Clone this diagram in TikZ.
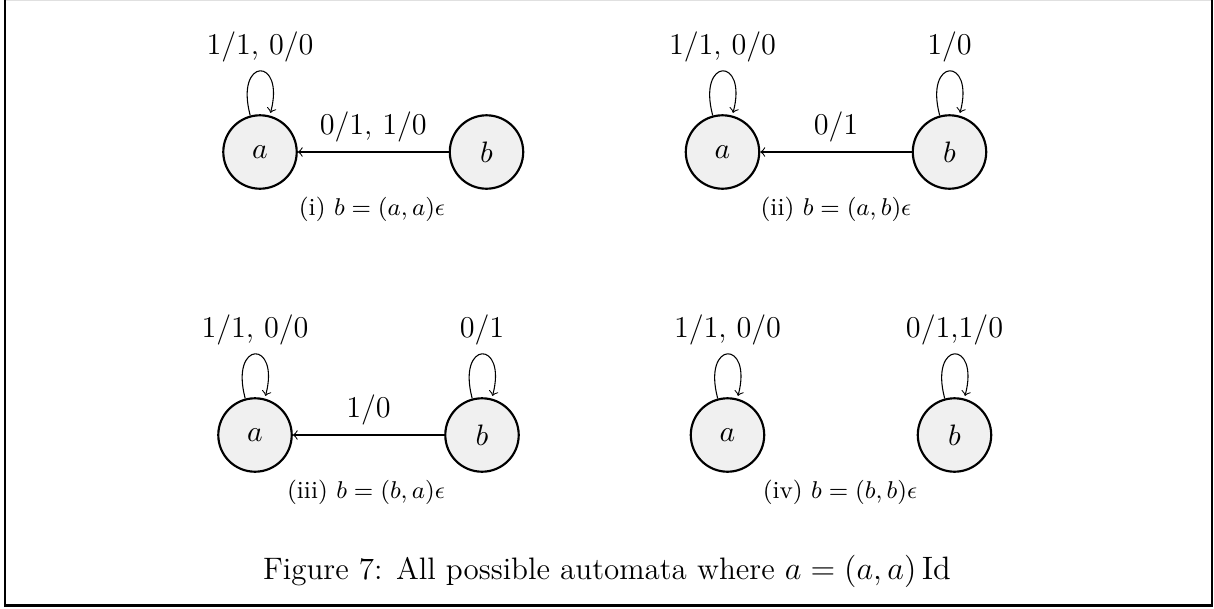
\documentclass[tikz,border=0pt]{standalone}
\usetikzlibrary{automata,positioning}
\begin{document}
\begin{tikzpicture}[x=0.37037pt,y=-0.37037pt,
  st/.style={circle,draw,thick,fill=black!6,minimum size=27.2pt,inner sep=0pt,font=\fontsize{11.2}{13}\selectfont},
  lab/.style={font=\fontsize{11.2}{13}\selectfont},
  tr/.style={->,thin},
  sub/.style={font=\fontsize{9.1}{11}\selectfont},
  capt/.style={font=\fontsize{11.5}{13}\selectfont}]
\useasboundingbox (0,0) rectangle (1214,608);
\draw[black!12,line width=0.6pt] (4.5,0.6) -- (1212,0.6);
\draw[black,line width=0.8pt] (4.8,0) -- (4.8,605.5) -- (1212.2,605.5) -- (1212.2,0);
% panel i
\node[st] (a1) at (260,152) {$a$};
\node[st] (b1) at (486.5,152) {$b$};
\draw[tr] (b1) -- node[lab,above] {0/1, 1/0} (a1);
\draw[tr] (a1) edge[loop above] node[lab,above] {1/1, 0/0} (a1);
\node[sub] (c1) at (372,209) {(i) $b=(a,a)\epsilon$};
% panel ii
\node[st] (a2) at (722.5,152) {$a$};
\node[st] (b2) at (949.5,152) {$b$};
\draw[tr] (b2) -- node[lab,above] {0/1} (a2);
\draw[tr] (a2) edge[loop above] node[lab,above] {1/1, 0/0} (a2);
\draw[tr] (b2) edge[loop above] node[lab,above] {1/0} (b2);
\node[sub] (c2) at (836,209) {(ii) $b=(a,b)\epsilon$};
% panel iii
\node[st] (a3) at (255,435) {$a$};
\node[st] (b3) at (482,435) {$b$};
\draw[tr] (b3) -- node[lab,above] {1/0} (a3);
\draw[tr] (a3) edge[loop above] node[lab,above] {1/1, 0/0} (a3);
\draw[tr] (b3) edge[loop above] node[lab,above] {0/1} (b3);
\node[sub] (c3) at (366,492) {(iii) $b=(b,a)\epsilon$};
% panel iv
\node[st] (a4) at (727.5,435) {$a$};
\node[st] (b4) at (954.5,435) {$b$};
\draw[tr] (a4) edge[loop above] node[lab,above] {1/1, 0/0} (a4);
\draw[tr] (b4) edge[loop above] node[lab,above] {0/1,1/0} (b4);
\node[sub] (c4) at (840,492) {(iv) $b=(b,b)\epsilon$};
% caption
\node[capt] (cap) at (607,571) {Figure 7: All possible automata where $a=(a,a)\,\mathrm{Id}$};
\end{tikzpicture}
\end{document}
